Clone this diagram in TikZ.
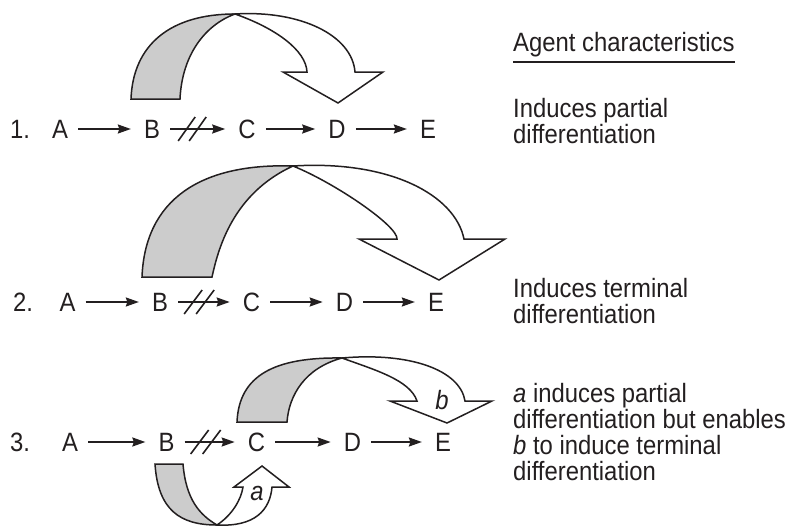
\documentclass[tikz,border=0pt]{standalone}
\usepackage{fontspec}
\setmainfont{Liberation Sans}[FakeStretch=0.9]
\usetikzlibrary{arrows.meta}
\definecolor{ink}{RGB}{35,31,32}
\definecolor{band}{RGB}{204,204,204}
\begin{document}
\begin{tikzpicture}[x=1pt,y=-1pt,
  every node/.style={inner sep=0pt, text=ink, font=\fontsize{26.5}{26}\selectfont},
  lett/.style={anchor=center},
  txt/.style={anchor=base west},
  flow/.style={draw=ink, line width=1.8pt, -{Stealth[length=13pt,width=9pt,inset=1.5pt]}, shorten <=10pt, shorten >=13pt},
  slash/.style={draw=ink, line width=1.6pt},
  ribbon/.style={draw=ink, line width=1.5pt, line join=miter},
  back/.style={ribbon, fill=band},
  front/.style={ribbon, fill=white}]
\useasboundingbox (0,0) rectangle (791,527);

% ---------- row 1 ----------
\node[lett] (n1) at (20,129) {1.};
\node[lett] (a1) at (60,129) {A};
\node[lett] (b1) at (152,129) {B};
\node[lett] (c1) at (247,129) {C};
\node[lett] (d1) at (337,129) {D};
\node[lett] (e1) at (428,129) {E};
\draw[flow] (a1) -- (b1);
\draw[flow] (b1) -- (c1);
\draw[flow] (c1) -- (d1);
\draw[flow] (d1) -- (e1);
\draw[slash] ([xshift=18pt,yshift=-12pt]b1.east) -- ([xshift=35pt,yshift=12pt]b1.east);
\draw[slash] ([xshift=29pt,yshift=-12pt]b1.east) -- ([xshift=46pt,yshift=12pt]b1.east);
\draw[back] (131,99) .. controls (133,45) and (170,14) .. (235,14)
   .. controls (205,25) and (182,55) .. (180,99) -- cycle;
\draw[front] (235,14) .. controls (300,10) and (352,35) .. (355,72)
   -- (383,72) -- (338,103) -- (283,72) -- (307,72)
   .. controls (306,50) and (275,28) .. (235,14) -- cycle;

% ---------- row 2 ----------
\node[lett] (n2) at (23,302) {2.};
\node[lett] (a2) at (67.5,302) {A};
\node[lett] (b2) at (160,302) {B};
\node[lett] (c2) at (251.5,302) {C};
\node[lett] (d2) at (344.5,302) {D};
\node[lett] (e2) at (436,302) {E};
\draw[flow] (a2) -- (b2);
\draw[flow] (b2) -- (c2);
\draw[flow] (c2) -- (d2);
\draw[flow] (d2) -- (e2);
\draw[slash] ([xshift=16pt,yshift=-12pt]b2.east) -- ([xshift=34pt,yshift=12pt]b2.east);
\draw[slash] ([xshift=28pt,yshift=-12pt]b2.east) -- ([xshift=46pt,yshift=12pt]b2.east);
\draw[back] (142,277) .. controls (145,200) and (200,163) .. (293,166)
   .. controls (232,194) and (218,250) .. (212,277) -- cycle;
\draw[front] (293,166) .. controls (390,160) and (455,195) .. (464,239)
   -- (505,239) -- (439,280) -- (359,239) -- (397,239)
   .. controls (398,226) and (335,183) .. (293,166) -- cycle;

% ---------- row 3 ----------
\node[lett] (n3) at (20,442) {3.};
\node[lett] (a3) at (70,442) {A};
\node[lett] (b3) at (166.5,442) {B};
\node[lett] (c3) at (256.5,442) {C};
\node[lett] (d3) at (352.5,442) {D};
\node[lett] (e3) at (443,442) {E};
\draw[flow] (a3) -- (b3);
\draw[flow] (b3) -- (c3);
\draw[flow] (c3) -- (d3);
\draw[flow] (d3) -- (e3);
\draw[slash] ([xshift=16pt,yshift=-12pt]b3.east) -- ([xshift=34pt,yshift=12pt]b3.east);
\draw[slash] ([xshift=28pt,yshift=-12pt]b3.east) -- ([xshift=46pt,yshift=12pt]b3.east);
\draw[back] (237,422) .. controls (239,375) and (275,357) .. (342,358)
   .. controls (305,368) and (289,395) .. (287,422) -- cycle;
\draw[front] (342,358) .. controls (410,352) and (460,370) .. (465,401)
   -- (492,401) -- (447,423) -- (390,401) -- (417,401)
   .. controls (410,380) and (375,370) .. (342,358) -- cycle;
\node (lb) at (442,400) {\textit{b}};
\draw[back] (155,464) .. controls (158,510) and (180,525) .. (217,525)
   .. controls (200,515) and (186,500) .. (183,464) -- cycle;
\draw[front] (217,525) .. controls (255,527) and (270,510) .. (272,487)
   -- (289,487) -- (262,466) -- (234,487) -- (243,487)
   .. controls (241,500) and (232,515) .. (217,525) -- cycle;
\node (la) at (257,493) {\textit{a}};

% ---------- right column ----------
\node[txt] (hdr) at (513,52) {Agent characteristics};
\draw[ink, line width=2.2pt] ([yshift=-10pt]hdr.base west) -- ([yshift=-10pt]hdr.base east);
\node[txt] (t11) at (513,117) {Induces partial};
\node[txt] (t12) at (513,143) {differentiation};
\node[txt] (t21) at (513,297) {Induces terminal};
\node[txt] (t22) at (513,323) {differentiation};
\node[txt] (t31) at (513,402) {\textit{a} induces partial};
\node[txt] (t32) at (513,428) {differentiation but enables};
\node[txt] (t33) at (513,454) {\textit{b} to induce terminal};
\node[txt] (t34) at (513,480) {differentiation};
\end{tikzpicture}
\end{document}
